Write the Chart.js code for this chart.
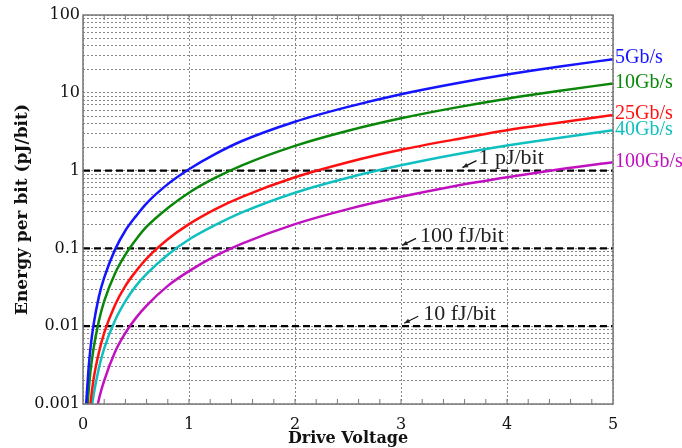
<!DOCTYPE html>
<html>
<head>
<meta charset="utf-8">
<script src="https://cdn.jsdelivr.net/npm/chart.js@4/dist/chart.umd.min.js"></script>
<style>
  body { margin: 0; background: #fff; }
  #wrap { width: 682px; height: 448px; }
</style>
</head>
<body>
<div id="wrap"><canvas id="energyChart" width="682" height="448"></canvas></div>
<script>
// drive voltage samples (V)
const voltage = [0.03, 0.05, 0.07, 0.1, 0.15, 0.2, 0.3, 0.4, 0.5, 0.6, 0.8, 1, 1.25, 1.5, 2, 2.5, 3, 3.5, 4, 4.5, 5];

// energy per bit (pJ/bit)
const e5G   = [0.001, 0.0026, 0.0052, 0.0105, 0.024, 0.042, 0.095, 0.17, 0.26, 0.38, 0.67, 1.04, 1.64, 2.4, 4.25, 6.6, 9.6, 13.1, 17.2, 21.8, 27];
const e10G  = [0.00047, 0.0013, 0.0026, 0.0052, 0.0117, 0.021, 0.047, 0.083, 0.13, 0.19, 0.33, 0.52, 0.81, 1.17, 2.08, 3.25, 4.7, 6.4, 8.4, 10.6, 13.2];
const e25G  = [0.00018, 0.0005, 0.001, 0.0021, 0.0046, 0.0082, 0.0185, 0.033, 0.051, 0.074, 0.131, 0.205, 0.32, 0.46, 0.82, 1.28, 1.85, 2.5, 3.3, 4.15, 5.2];
const e40G  = [0.00012, 0.00033, 0.00064, 0.0013, 0.0029, 0.0052, 0.0117, 0.021, 0.033, 0.047, 0.083, 0.13, 0.2, 0.29, 0.52, 0.81, 1.17, 1.6, 2.1, 2.65, 3.3];
const e100G = [0.00005, 0.00013, 0.00025, 0.0005, 0.00115, 0.002, 0.0046, 0.0082, 0.0128, 0.0184, 0.033, 0.051, 0.08, 0.115, 0.205, 0.32, 0.46, 0.63, 0.82, 1.04, 1.28];

const seriesNames = ["5Gb/s", "10Gb/s", "25Gb/s", "40Gb/s", "100Gb/s"];
const seriesColors = ["#1414ff", "#0a870a", "#ff1010", "#10c0c0", "#c010c0"];

// reference levels
const refLevels = [1, 0.1, 0.01];
const refLabels = ["1 pJ/bit", "100 fJ/bit", "10 fJ/bit"];
const refArrowX = [3.58, 3.01, 3.03];
const refTextX = [3.73, 3.18, 3.21];

const yTicks = [0.001, 0.01, 0.1, 1, 10, 100];

const serif = "'DejaVu Serif', 'Liberation Serif', serif";
const serif2 = "'Liberation Serif', serif";

function toPoints(ys) {
  return ys.map((y, i) => ({ x: voltage[i], y: y }));
}

const curves = [e5G, e10G, e25G, e40G, e100G].map((ys, i) => ({
  label: seriesNames[i],
  data: toPoints(ys),
  borderColor: seriesColors[i],
  borderWidth: 2.5,
  pointRadius: 0,
  cubicInterpolationMode: "monotone",
  fill: false,
}));

const refLines = refLevels.map(v => ({
  label: "ref" + v,
  data: [{ x: 0, y: v }, { x: 5, y: v }],
  borderColor: "#000",
  borderWidth: 2.2,
  borderDash: [7, 4],
  pointRadius: 0,
  fill: false,
}));

// frame, inward minor ticks, right side labels, arrows
const decorPlugin = {
  id: "decor",
  afterDatasetsDraw(chart) {
    const ctx = chart.ctx;
    const area = chart.chartArea;
    const xs = chart.scales.x;
    const ys = chart.scales.y;
    ctx.save();

    // box
    ctx.strokeStyle = "#777";
    ctx.lineWidth = 1.5;
    ctx.strokeRect(area.left, area.top, area.right - area.left, area.bottom - area.top);

    // minor ticks on bottom and top
    ctx.lineWidth = 1;
    for (let k = 1; k < 25; k++) {
      const px = xs.getPixelForValue(k * 0.2);
      ctx.beginPath();
      ctx.moveTo(px, area.bottom);
      ctx.lineTo(px, area.bottom - 5);
      ctx.moveTo(px, area.top);
      ctx.lineTo(px, area.top + 5);
      ctx.stroke();
    }

    // series labels at the right edge
    ctx.font = "20px " + serif2;
    ctx.textBaseline = "middle";
    ctx.textAlign = "left";
    curves.forEach((c, i) => {
      const last = c.data[c.data.length - 1];
      ctx.fillStyle = seriesColors[i];
      ctx.fillText(seriesNames[i], area.right + 2, ys.getPixelForValue(last.y) - 1);
    });

    // reference annotations
    ctx.font = "22px " + serif2;
    ctx.fillStyle = "#222";
    ctx.strokeStyle = "#111";
    refLevels.forEach((v, i) => {
      const yLine = ys.getPixelForValue(v);
      const tipX = xs.getPixelForValue(refArrowX[i]);
      const tipY = yLine - 3;
      const tailX = tipX + 14;
      const tailY = yLine - 10;
      ctx.lineWidth = 1.2;
      ctx.beginPath();
      ctx.moveTo(tailX, tailY);
      ctx.lineTo(tipX, tipY);
      ctx.stroke();
      const ang = Math.atan2(tipY - tailY, tipX - tailX);
      ctx.beginPath();
      ctx.moveTo(tipX, tipY);
      ctx.lineTo(tipX - 6 * Math.cos(ang - 0.4), tipY - 6 * Math.sin(ang - 0.4));
      ctx.lineTo(tipX - 6 * Math.cos(ang + 0.4), tipY - 6 * Math.sin(ang + 0.4));
      ctx.closePath();
      ctx.fill();
      ctx.textBaseline = "middle";
      ctx.fillText(refLabels[i], xs.getPixelForValue(refTextX[i]), yLine - 12);
    });

    ctx.restore();
  }
};

const ctxE = document.getElementById("energyChart").getContext("2d");
new Chart(ctxE, {
  type: "line",
  data: { datasets: curves.concat(refLines) },
  plugins: [decorPlugin],
  options: {
    responsive: false,
    animation: false,
    layout: { padding: { top: 15, right: 69, left: 0, bottom: 0 } },
    plugins: { legend: { display: false }, tooltip: { enabled: false } },
    scales: {
      x: {
        type: "linear",
        min: 0,
        max: 5,
        ticks: { stepSize: 1, color: "#111", font: { family: serif, size: 16 }, padding: 11, maxRotation: 0 },
        grid: { color: "#888", drawTicks: false, tickLength: 0 },
        border: { display: false, dash: [2, 2] },
        title: { display: true, text: "Drive Voltage", color: "#111", font: { family: serif, size: 16, weight: "bold" }, padding: 0 },
        afterFit(scale) { scale.height = 44; },
      },
      y: {
        type: "logarithmic",
        min: 0.001,
        max: 100,
        afterBuildTicks(scale) {
          const t = [];
          yTicks.forEach((d, i) => {
            if (i === yTicks.length - 1) { t.push({ value: d }); return; }
            for (let m = 1; m <= 9; m++) t.push({ value: +(d * m).toPrecision(3) });
          });
          scale.ticks = t;
        },
        ticks: {
          color: "#111",
          font: { family: serif, size: 16 },
          padding: 3,
          autoSkip: false,
          callback(v) { return yTicks.includes(v) ? String(v) : ""; },
        },
        grid: { color: "#888", drawTicks: false, tickLength: 0 },
        border: { display: false, dash: [2, 2] },
        title: { display: true, text: "Energy per bit (pJ/bit)", color: "#111", font: { family: serif, size: 17, weight: "bold" }, padding: { top: 12, bottom: 0 } },
        afterFit(scale) { scale.width = 83; },
      },
    },
  },
});
</script>
</body>
</html>
